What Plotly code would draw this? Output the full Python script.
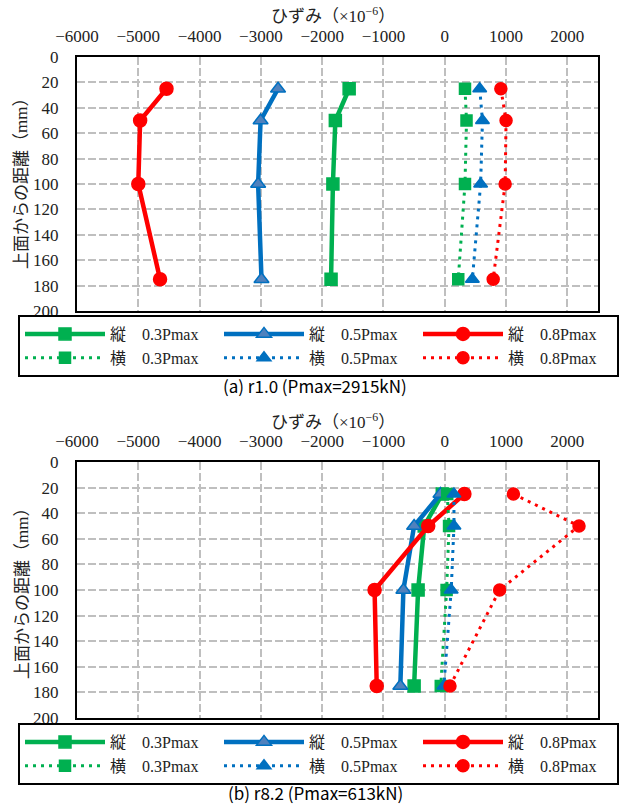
import plotly.graph_objects as go

# ---------------- data ----------------
depth = [25, 50, 100, 175]  # 上面からの距離 (mm)

# (a) r1.0 (Pmax=2915kN)
a_tate_03 = [-1560, -1785, -1825, -1855]
a_tate_05 = [-2720, -3005, -3045, -2990]
a_tate_08 = [-4540, -4970, -5000, -4645]
a_yoko_03 = [330, 355, 330, 220]
a_yoko_05 = [570, 615, 585, 450]
a_yoko_08 = [915, 1000, 985, 790]

# (b) r8.2 (Pmax=613kN)
b_tate_03 = [-40, -335, -435, -500]
b_tate_05 = [-70, -500, -675, -725]
b_tate_08 = [320, -270, -1145, -1110]
b_yoko_03 = [40, 70, 30, -65]
b_yoko_05 = [150, 150, 105, -15]
b_yoko_08 = [1120, 2190, 895, 85]

names = ["縦　0.3Pmax", "縦　0.5Pmax", "縦　0.8Pmax",
         "横　0.3Pmax", "横　0.5Pmax", "横　0.8Pmax"]
x_ticks = [-6000, -5000, -4000, -3000, -2000, -1000, 0, 1000, 2000]
y_ticks = [0, 20, 40, 60, 80, 100, 120, 140, 160, 180, 200]

GREEN = "#00B050"
BLUE = "#0070C0"
RED = "#FF0000"

SERIF = "Liberation Serif, Noto Sans CJK JP"
GOTHIC = "Noto Sans CJK JP"

styles = [
    dict(color=GREEN, symbol="square", size=12, fill=GREEN, dash="solid"),
    dict(color=BLUE, symbol="triangle-up", size=13, fill="#4F81BD", dash="solid"),
    dict(color=RED, symbol="circle", size=13, fill=RED, dash="solid"),
    dict(color=GREEN, symbol="square", size=11, fill=GREEN, dash="3px,5px"),
    dict(color=BLUE, symbol="triangle-up", size=12, fill=BLUE, dash="3px,5px"),
    dict(color=RED, symbol="circle", size=12, fill=RED, dash="3px,5px"),
]

fig = go.Figure()

def add_set(series, xa, ya, legend):
    for name, vals, st in zip(names, series, styles):
        fig.add_trace(go.Scatter(
            x=vals, y=depth, name=name, mode="lines+markers",
            xaxis=xa, yaxis=ya, legend=legend,
            line=dict(color=st["color"], width=4.5 if st["dash"] == "solid" else 3,
                      dash=st["dash"]),
            marker=dict(symbol=st["symbol"], size=st["size"], color=st["fill"],
                        line=dict(color=st["color"], width=1.5)),
        ))

add_set([a_tate_03, a_tate_05, a_tate_08, a_yoko_03, a_yoko_05, a_yoko_08],
        "x", "y", "legend")
add_set([b_tate_03, b_tate_05, b_tate_08, b_yoko_03, b_yoko_05, b_yoko_08],
        "x2", "y2", "legend2")

W, H = 630, 805
x_dom = [77 / W, 598 / W]
ya_dom = [1 - 311 / H, 1 - 57 / H]
yb_dom = [1 - 718 / H, 1 - 462 / H]

xcommon = dict(range=[-6000, 2500], tickvals=x_ticks, side="top", automargin=False,
               showgrid=True, gridcolor="#BFBFBF", gridwidth=1.5, griddash="8px,3px",
               zeroline=False, showline=True, linecolor="black", linewidth=2,
               mirror=True, ticks="", ticklabelstandoff=6,
               tickfont=dict(family=SERIF, size=17, color="#222"), domain=x_dom)
ycommon = dict(range=[200, 0], tickvals=y_ticks, automargin=False,
               showgrid=True, gridcolor="#BFBFBF", gridwidth=1.5, griddash="8px,3px",
               zeroline=False, showline=True, linecolor="black", linewidth=2,
               mirror=True, ticks="", ticklabelstandoff=13,
               tickfont=dict(family=SERIF, size=17, color="#222"))

legcommon = dict(orientation="h", xanchor="left", yanchor="top",
                 bgcolor="white", bordercolor="black", borderwidth=2,
                 font=dict(family=SERIF, size=16, color="#222"),
                 entrywidth=104, entrywidthmode="pixels", itemwidth=80,
                 tracegroupgap=0)

fig.update_layout(
    width=W, height=H, autosize=False,
    margin=dict(l=0, r=0, t=0, b=0, autoexpand=False),
    paper_bgcolor="white", plot_bgcolor="white",
    showlegend=True,
    xaxis=dict(**xcommon, anchor="y"),
    yaxis=dict(**ycommon, domain=ya_dom, anchor="x"),
    xaxis2=dict(**xcommon, anchor="y2"),
    yaxis2=dict(**ycommon, domain=yb_dom, anchor="x2"),
    legend=dict(**legcommon, x=18 / W, y=1 - 315 / H),
    legend2=dict(**legcommon, x=18 / W, y=1 - 723 / H),
)

ann = []
title_x = "ひずみ（×10<sup>−6</sup>）"
for yc in [15, 421]:
    ann.append(dict(text=title_x, x=333 / W, y=1 - yc / H, xref="paper", yref="paper",
                    showarrow=False, font=dict(family=SERIF, size=17, color="#222"),
                    xanchor="center", yanchor="middle"))
for yc in [180, 590]:
    ann.append(dict(text="上面からの距離（mm）", x=22 / W, y=1 - yc / H, xref="paper",
                    yref="paper", showarrow=False, textangle=-90,
                    font=dict(family=SERIF, size=17, color="#222"),
                    xanchor="center", yanchor="middle"))
ann.append(dict(text="(a) r1.0 (Pmax=2915kN)", x=0.5, y=1 - 386 / H, xref="paper",
                yref="paper", showarrow=False, font=dict(family=GOTHIC, size=17, color="black"),
                xanchor="center", yanchor="middle"))
ann.append(dict(text="(b) r8.2 (Pmax=613kN)", x=0.5, y=1 - 792 / H, xref="paper",
                yref="paper", showarrow=False, font=dict(family=GOTHIC, size=17, color="black"),
                xanchor="center", yanchor="middle"))
fig.update_layout(annotations=ann)

fig.write_html("out.html", config={"displayModeBar": False},
               post_script="document.body.style.margin='0';document.body.style.padding='0';")
